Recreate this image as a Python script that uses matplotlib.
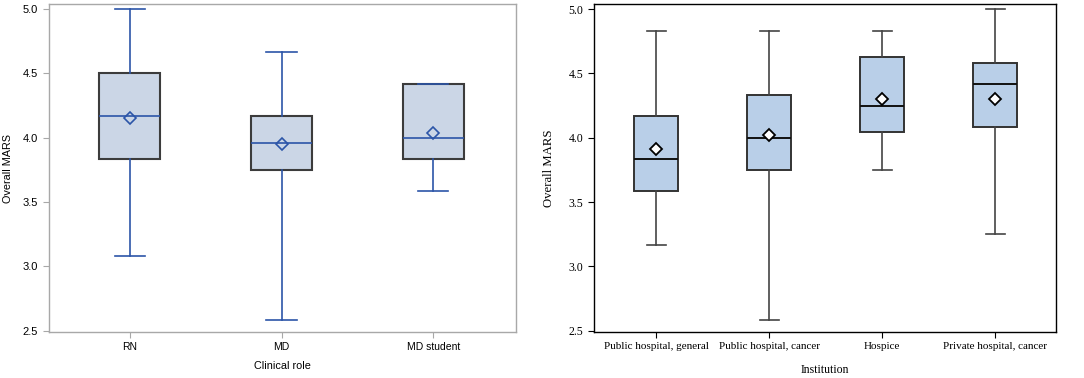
import matplotlib.pyplot as plt

# left panel: clinical role
roles = ['RN', 'MD', 'MD student']
role_whislo = [3.083, 2.583, 3.583]
role_q1 = [3.833, 3.75, 3.833]
role_med = [4.167, 3.958, 4.0]
role_q3 = [4.5, 4.167, 4.417]
role_whishi = [5.0, 4.667, 4.417]
role_mean = [4.15, 3.95, 4.04]

# right panel: institution
insts = ['Public hospital, general', 'Public hospital, cancer', 'Hospice', 'Private hospital, cancer']
inst_whislo = [3.167, 2.583, 3.75, 3.25]
inst_q1 = [3.583, 3.75, 4.042, 4.083]
inst_med = [3.833, 4.0, 4.25, 4.417]
inst_q3 = [4.167, 4.333, 4.625, 4.583]
inst_whishi = [4.833, 4.833, 4.833, 5.0]
inst_mean = [3.915, 4.02, 4.30, 4.30]


def make_stats(labels, lo, q1, med, q3, hi, mean):
    return [dict(label=l, whislo=a, q1=b, med=c, q3=d, whishi=e, mean=m, fliers=[])
            for l, a, b, c, d, e, m in zip(labels, lo, q1, med, q3, hi, mean)]


fig = plt.figure(figsize=(10.84, 3.78), dpi=100)

# ---- left ----
ax1 = fig.add_axes([0.0449, 0.1217, 0.4311, 0.8677])
blue = '#2c55a8'
stats1 = make_stats(roles, role_whislo, role_q1, role_med, role_q3, role_whishi, role_mean)
ax1.bxp(stats1, positions=[1, 2, 3], widths=0.4, capwidths=0.2, patch_artist=True,
        showmeans=True, showfliers=False,
        boxprops=dict(facecolor='#cbd6e6', edgecolor='#3c3c3c', linewidth=1.5),
        whiskerprops=dict(color=blue, linewidth=1.2),
        capprops=dict(color=blue, linewidth=1.2),
        medianprops=dict(color=blue, linewidth=1.2),
        meanprops=dict(marker='D', markerfacecolor='none', markeredgecolor=blue,
                       markersize=6, markeredgewidth=1.2))
ax1.set_xlim(0.465, 3.545)
ax1.set_ylim(2.49, 5.04)
ax1.set_yticks([2.5, 3.0, 3.5, 4.0, 4.5, 5.0])
ax1.set_yticklabels(['2.5', '3.0', '3.5', '4.0', '4.5', '5.0'])
for s in ax1.spines.values():
    s.set_color('#a8a8a8')
    s.set_linewidth(1.0)
ax1.tick_params(colors='#a8a8a8', labelcolor='black', length=4, labelsize=7.5)
ax1.tick_params(axis='y', labelsize=8)
for t in ax1.get_xticklabels() + ax1.get_yticklabels():
    t.set_family('Liberation Sans')
ax1.set_xlabel('Clinical role', family='Liberation Sans', fontsize=7.8, labelpad=6)
ax1.set_ylabel('Overall MARS', family='Liberation Sans', fontsize=7.8)
ax1.yaxis.set_label_coords(-0.076, 0.5)

# ---- right ----
ax2 = fig.add_axes([0.548, 0.1217, 0.426, 0.8677])
dark = '#333333'
stats2 = make_stats(insts, inst_whislo, inst_q1, inst_med, inst_q3, inst_whishi, inst_mean)
ax2.bxp(stats2, positions=[1, 2, 3, 4], widths=0.39, capwidths=0.17, patch_artist=True,
        showmeans=True, showfliers=False,
        boxprops=dict(facecolor='#b9cfe8', edgecolor=dark, linewidth=1.4),
        whiskerprops=dict(color='#444444', linewidth=1.2),
        capprops=dict(color='#444444', linewidth=1.2),
        medianprops=dict(color='#111111', linewidth=1.4),
        meanprops=dict(marker='D', markerfacecolor='white', markeredgecolor='black',
                       markersize=6, markeredgewidth=1.3))
ax2.set_xlim(0.449, 4.537)
ax2.set_ylim(2.49, 5.04)
ax2.set_yticks([2.5, 3.0, 3.5, 4.0, 4.5, 5.0])
ax2.set_yticklabels(['2.5', '3.0', '3.5', '4.0', '4.5', '5.0'])
for s in ax2.spines.values():
    s.set_color('black')
    s.set_linewidth(1.0)
ax2.tick_params(colors='black', length=4, labelsize=8)
ax2.tick_params(axis='y', labelsize=8.5)
for t in ax2.get_xticklabels() + ax2.get_yticklabels():
    t.set_family('Liberation Serif')
ax2.set_xlabel('Institution', family='Liberation Serif', fontsize=8.5, labelpad=9)
ax2.set_ylabel('Overall MARS', family='Liberation Serif', fontsize=9.2)
ax2.yaxis.set_label_coords(-0.084, 0.5)

fig.savefig('out.png', dpi=100)
